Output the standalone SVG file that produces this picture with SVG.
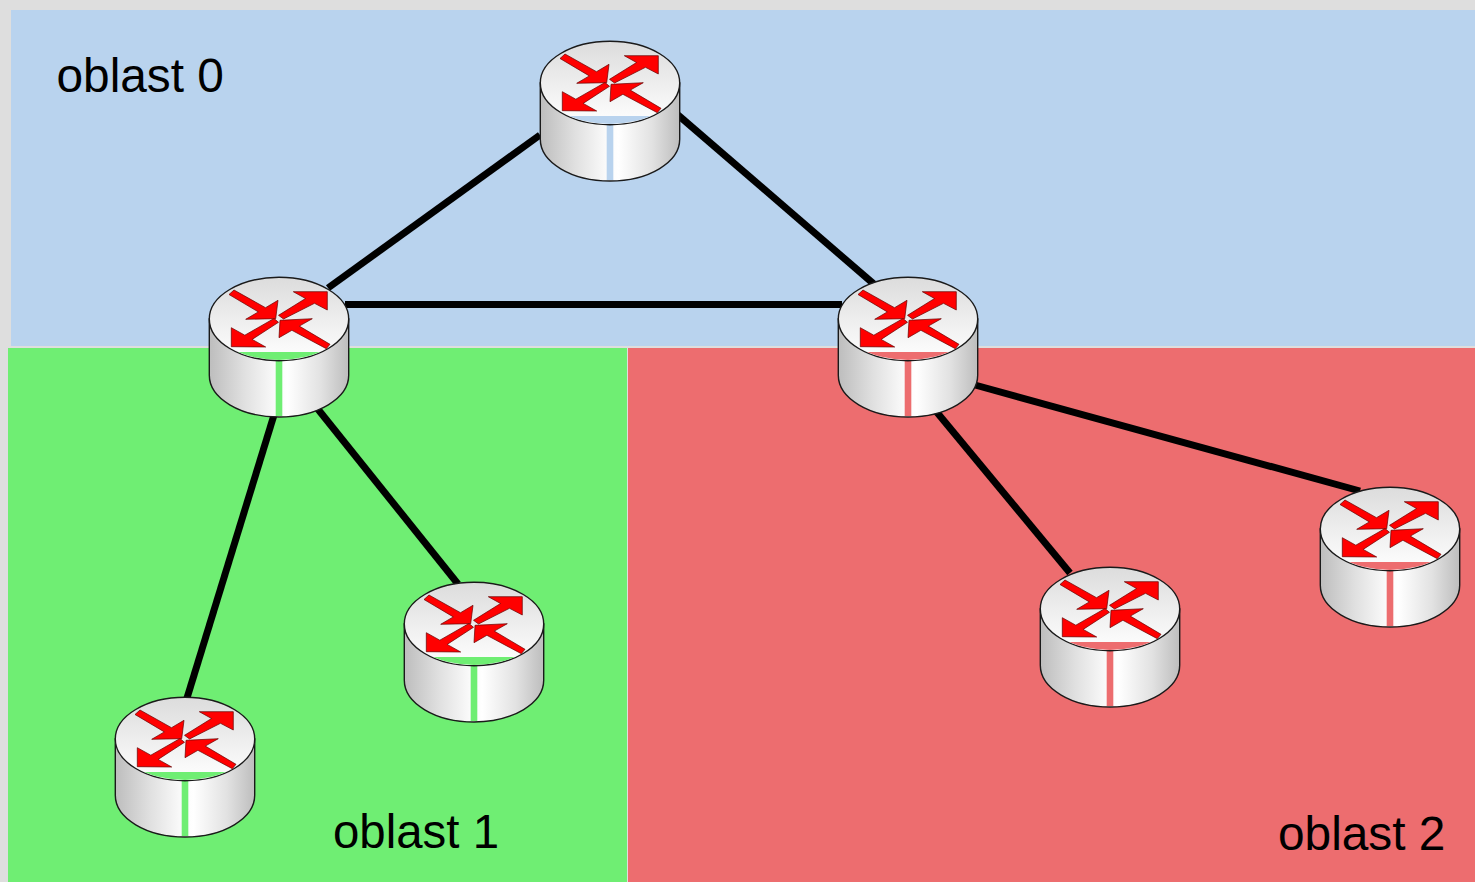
<svg xmlns="http://www.w3.org/2000/svg" width="1475" height="882" viewBox="0 0 1475 882">
<style>
.lbl{font-family:"Liberation Sans",Arial,sans-serif;font-size:47.8px;fill:#000}
.link{stroke:#000;stroke-width:7;fill:none}
.arr{fill:#f00;stroke:#600;stroke-width:.7}
.a0{color:#b9d3ee}.a1{color:#6fee73}.a2{color:#ed6d6f}
</style>
<defs>
<linearGradient id="side" x1="0" x2="1" y1="0" y2="0">
<stop offset="0" stop-color="#bdbdbd"/><stop offset=".25" stop-color="#e0e0e0"/><stop offset=".47" stop-color="#fafafa"/><stop offset=".56" stop-color="#fff"/><stop offset=".8" stop-color="#e2e2e2"/><stop offset="1" stop-color="#bdbdbd"/>
</linearGradient>
<linearGradient id="top" x1="0" x2="0" y1="0" y2="1">
<stop offset="0" stop-color="#dcdcdc"/><stop offset="1" stop-color="#fff"/>
</linearGradient>
<clipPath id="topclip"><rect x="0" y="75" width="140" height="12"/></clipPath>
<g id="router">
<path d="M.3 42V98.3A69.7 41.7 0 0 0 139.7 98.3V42Z" fill="url(#side)" stroke="#1a1a1a" stroke-width="1.4"/>
<rect x="66.7" y="84" width="6.6" height="55" fill="currentColor"/>
<ellipse cx="70" cy="42" rx="69.7" ry="41.7" fill="url(#top)" stroke="#1a1a1a" stroke-width="1.4"/>
<ellipse cx="70" cy="42" rx="69" ry="40.9" fill="currentColor" clip-path="url(#topclip)"/>
<polygon class="arr" points="20,17.5 25,13 56.5,30.7 69,23.3 66.7,41.7 36.7,42.3 49.3,34.9"/>
<polygon class="arr" points="69.5,38.3 74.5,42 105.5,26.3 118.3,33 118.3,14.7 84.3,14.7 96.5,21.5"/>
<polygon class="arr" points="65,41.5 69.5,45.3 43.2,62.4 56.7,70 22.3,69.7 22.3,50.7 35.8,58.2"/>
<polygon class="arr" points="121,67.3 117.3,71.7 82.9,53.3 70,60.7 71,43.3 103.3,41.7 90.3,49.1"/>
</g>
</defs>
<rect width="1475" height="882" fill="#dedede"/>
<g id="areas">
<rect x="11" y="10" width="1464" height="336" fill="#b9d3ee"/>
<rect x="8" y="348" width="619" height="534" fill="#6fee73"/>
<rect x="628" y="348" width="847" height="534" fill="#ed6d6f"/>
</g>
<g id="connectors">
<line class="link" x1="540" y1="135" x2="328" y2="288"/>
<line class="link" x1="678" y1="115" x2="875" y2="285"/>
<line class="link" x1="345" y1="304.5" x2="842" y2="304.5"/>
<line class="link" x1="274" y1="415" x2="187" y2="698"/>
<line class="link" x1="317" y1="408" x2="458" y2="584"/>
<line class="link" x1="935" y1="410" x2="1070" y2="573"/>
<line class="link" x1="975" y1="385" x2="1360" y2="491"/>
</g>
<g id="r0" class="a0"><use href="#router" x="540" y="41"/></g>
<g id="r1" class="a1"><use href="#router" x="209" y="277"/></g>
<g id="r2" class="a2"><use href="#router" x="838" y="277"/></g>
<g id="r3" class="a1"><use href="#router" x="404" y="582"/></g>
<g id="r4" class="a1"><use href="#router" x="115" y="697"/></g>
<g id="r5" class="a2"><use href="#router" x="1040" y="567"/></g>
<g id="r6" class="a2"><use href="#router" x="1320" y="487"/></g>
<text class="lbl" x="56.5" y="92">oblast 0</text>
<text class="lbl" x="333" y="848" style="font-size:47.4px">oblast 1</text>
<text class="lbl" x="1278" y="850">oblast 2</text>
</svg>
